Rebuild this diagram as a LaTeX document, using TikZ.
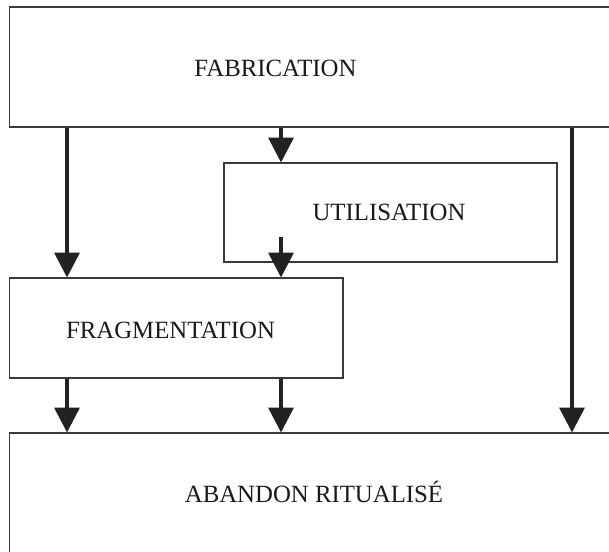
\documentclass[tikz,border=0pt]{standalone}
\usepackage{fontspec}
\setmainfont{Liberation Serif}
\usetikzlibrary{arrows.meta}
\definecolor{boxline}{HTML}{3A3A3A}
\definecolor{arrline}{HTML}{222222}
\tikzset{
  box/.style={draw=boxline, line width=1.6pt, anchor=north west, inner sep=0pt},
  lbl/.style={inner sep=0pt, anchor=base, font=\fontsize{24.8}{29}\selectfont, text=black!90},
  arr/.style={draw=arrline, line width=3.6pt, -{Triangle[length=25pt,width=25pt]}, shorten >=-0.5pt}
}
\begin{document}
\begin{tikzpicture}[x=1pt,y=-1pt]
\useasboundingbox (0,0) rectangle (609,551);
\clip (0,0) rectangle (609,551);
\fill[white] (0,0) rectangle (609,551);
% boxes
\node[box, minimum width=620pt, minimum height=120pt] (fab) at (8.5,6) {};
\node[box, minimum width=333pt, minimum height=99pt] (util) at (223,162) {};
\node[box, minimum width=333.5pt, minimum height=100pt] (frag) at (8.5,277) {};
\node[box, minimum width=620pt, minimum height=140pt] (aban) at (8.5,432) {};
% labels
\node[lbl] (tfab) at (275.5,76) {FABRICATION};
\node[lbl] (tutil) at (389,220) {UTILISATION};
\node[lbl] (tfrag) at (170.5,338) {FRAGMENTATION};
\node[lbl] (taban) at (314,502) {ABANDON RITUALISÉ};
% columns
\coordinate (c1) at (67,0);
\coordinate (c2) at (281,0);
\coordinate (c3) at (572,0);
\coordinate (ustart) at (281,237);
% connectors
\draw[arr] (c1 |- fab.south) -- (c1 |- frag.north);
\draw[arr] (c2 |- fab.south) -- (c2 |- util.north);
\draw[arr] (ustart) -- (c2 |- frag.north);
\draw[arr] (c3 |- fab.south) -- (c3 |- aban.north);
\draw[arr] (c1 |- frag.south) -- (c1 |- aban.north);
\draw[arr] (c2 |- frag.south) -- (c2 |- aban.north);
\end{tikzpicture}
\end{document}
